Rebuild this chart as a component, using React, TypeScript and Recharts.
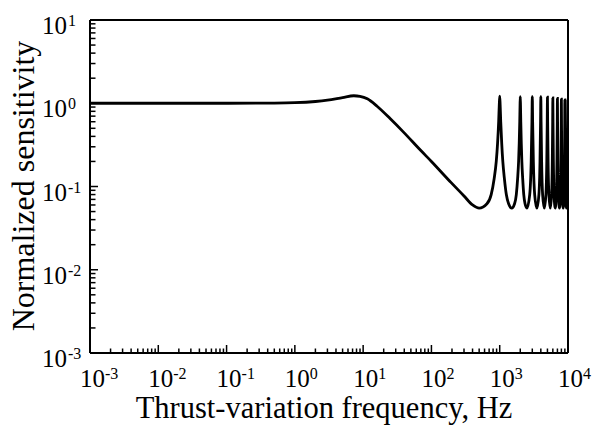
import React from "react";
import { LineChart, Line, XAxis, YAxis, ReferenceLine } from "recharts";

// thrust-variation frequency, Hz
const FREQ = [
  0.001, 0.01, 0.1, 0.5, 1, 2, 3, 5, 7.3, 9, 11.5, 16, 25, 39, 70, 100, 193, 300, 400, 500,
  650, 750, 830, 890, 930, 965, 985, 1000, 1015, 1035, 1070, 1110, 1170, 1250, 1350, 1500,
  1650, 1750, 1830, 1890, 1930, 1965, 1985, 2000, 2015, 2035, 2070, 2110, 2170, 2250, 2350, 2500,
  2750, 2890, 2965, 3000, 3035, 3110, 3250, 3500,
  3750, 3890, 3965, 4000, 4035, 4110, 4250, 4500,
  4750, 4890, 4965, 5000, 5035, 5110, 5250, 5500,
  5750, 5890, 5965, 6000, 6035, 6110, 6250, 6500,
  6750, 6890, 6965, 7000, 7035, 7110, 7250, 7500,
  7750, 7890, 7965, 8000, 8035, 8110, 8250, 8500,
  8750, 8890, 8965, 9000, 9035, 9110, 9250, 9500,
  9750, 9890, 9965, 10000,
];

// normalized sensitivity
const SENS = [
  1.0, 1.0, 1.0, 1.005, 1.015, 1.05, 1.09, 1.17, 1.23, 1.21, 1.13, 0.92, 0.65, 0.45, 0.27, 0.2, 0.112, 0.077, 0.06, 0.055,
  0.062, 0.08, 0.125, 0.2, 0.33, 0.6, 0.95, 1.22, 0.95, 0.6, 0.33, 0.2, 0.125, 0.08, 0.062, 0.055,
  0.062, 0.08, 0.125, 0.2, 0.33, 0.6, 0.95, 1.2, 0.95, 0.6, 0.33, 0.2, 0.125, 0.08, 0.062, 0.055,
  0.08, 0.2, 0.6, 1.2, 0.6, 0.2, 0.08, 0.055,
  0.08, 0.2, 0.6, 1.2, 0.6, 0.2, 0.08, 0.055,
  0.08, 0.2, 0.6, 1.18, 0.6, 0.2, 0.08, 0.055,
  0.08, 0.2, 0.6, 1.16, 0.6, 0.2, 0.08, 0.055,
  0.08, 0.2, 0.6, 1.14, 0.6, 0.2, 0.08, 0.055,
  0.08, 0.2, 0.6, 1.12, 0.6, 0.2, 0.08, 0.055,
  0.08, 0.2, 0.6, 1.1, 0.6, 0.2, 0.08, 0.055,
  0.08, 0.2, 0.6, 1.1,
];

const X_MAJOR = [0.001, 0.01, 0.1, 1, 10, 100, 1000, 10000];
const X_EXP = ["-3", "-2", "-1", "0", "1", "2", "3", "4"];
const Y_MAJOR = [0.001, 0.01, 0.1, 1, 10];
const Y_EXP = ["-3", "-2", "-1", "0", "1"];
const MINOR_STEPS = [2, 3, 4, 5, 6, 7, 8, 9];

const minorTicks = (majors: number[]) =>
  majors.slice(0, -1).flatMap((d) => MINOR_STEPS.map((m) => +(d * m).toPrecision(3)));

const X_TICKS = [...X_MAJOR, ...minorTicks(X_MAJOR)];
const Y_TICKS = [...Y_MAJOR, ...minorTicks(Y_MAJOR)];

const data = FREQ.map((f, i) => ({ f, s: SENS[i] }));

const FONT = "'Liberation Serif', 'Times New Roman', serif";

const majorIndex = (list: number[], v: number) =>
  list.findIndex((m) => Math.abs(m - v) / m < 1e-6);

const XTick = (props: any) => {
  const { x, y, payload } = props;
  const idx = majorIndex(X_MAJOR, payload.value);
  const major = idx >= 0;
  return (
    <g>
      <line x1={x} x2={x} y1={y} y2={y - (major ? 8 : 4.5)} stroke="#000" strokeWidth={1.5} />
      {major && (
        <text x={x - 10} y={y + 34} fontSize={25} fontFamily={FONT} fill="#000">
          10<tspan dy={-8} fontSize={16}>{X_EXP[idx]}</tspan>
        </text>
      )}
    </g>
  );
};

const YTick = (props: any) => {
  const { x, y, payload } = props;
  const idx = majorIndex(Y_MAJOR, payload.value);
  const major = idx >= 0;
  return (
    <g>
      <line x1={x} x2={x + (major ? 8 : 5.5)} y1={y} y2={y} stroke="#000" strokeWidth={1.5} />
      {major && (
        <g fontFamily={FONT} fill="#000">
          <text x={x - 23} y={y + 14} fontSize={25} textAnchor="end">10</text>
          <text x={x - 22} y={y + 6} fontSize={16}>{Y_EXP[idx]}</text>
        </g>
      )}
    </g>
  );
};

export default function App() {
  return (
    <div style={{ margin: "-8px 0 0 -8px", width: 601, height: 425 }}>
      <LineChart width={601} height={425} data={data} margin={{ top: 20, right: 33, left: 0, bottom: 7 }}>
        <XAxis
          dataKey="f"
          type="number"
          scale="log"
          domain={[0.001, 10000]}
          allowDataOverflow
          ticks={X_TICKS}
          interval={0}
          tick={<XTick />}
          tickLine={false}
          tickSize={0}
          tickMargin={0}
          height={65}
          axisLine={{ stroke: "#000", strokeWidth: 2 }}
        />
        <YAxis
          type="number"
          scale="log"
          domain={[0.001, 10]}
          allowDataOverflow
          ticks={Y_TICKS}
          interval={0}
          tick={<YTick />}
          tickLine={false}
          tickSize={0}
          tickMargin={0}
          width={90}
          axisLine={{ stroke: "#000", strokeWidth: 2 }}
        />
        <ReferenceLine y={10} stroke="#000" strokeWidth={2} ifOverflow="visible" />
        <ReferenceLine x={10000} stroke="#000" strokeWidth={2} ifOverflow="visible" />
        <Line
          dataKey="s"
          type="monotoneX"
          stroke="#000"
          strokeWidth={2.8}
          dot={false}
          isAnimationActive={false}
        />
        <text x={324} y={418} textAnchor="middle" fontSize={30.5} fontFamily={FONT} fill="#000">
          Thrust-variation frequency, Hz
        </text>
        <text
          x={34}
          y={186}
          transform="rotate(-90 34 186)"
          textAnchor="middle"
          fontSize={32}
          fontFamily={FONT}
          fill="#000"
        >
          Normalized sensitivity
        </text>
      </LineChart>
    </div>
  );
}
